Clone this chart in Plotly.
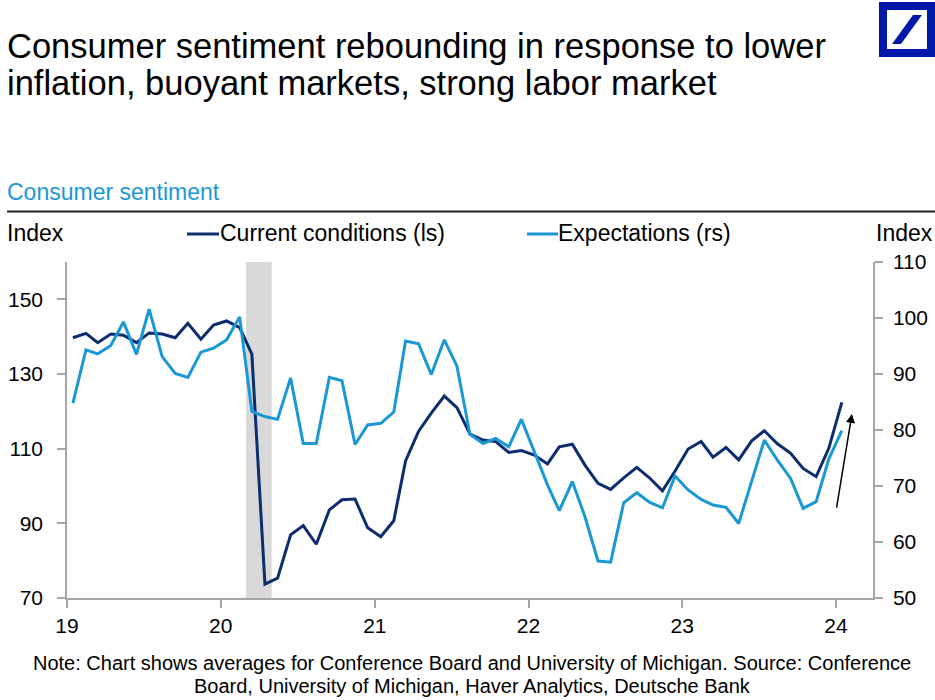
import plotly.graph_objects as go
import pandas as pd

# ---- data ----
dates = pd.date_range("2019-01-01", "2024-01-01", freq="MS") + pd.Timedelta(days=14)
current_conditions = [139.7, 140.9, 138.4, 140.7, 140.4, 138.4, 141.0, 140.7, 139.7, 143.6, 139.3, 143.1,
                      144.2, 142.4, 135.3, 73.7, 75.3, 86.9, 89.4, 84.4, 93.6, 96.3, 96.5, 88.8,
                      86.4, 90.7, 106.7, 114.7, 119.5, 124.1, 121.0, 113.9, 112.3, 111.9, 109.0, 109.5,
                      108.3, 105.9, 110.5, 111.2, 105.6, 100.7, 99.1, 102.2, 105.0, 102.2, 98.7, 104.0,
                      109.9, 111.9, 107.7, 110.3, 107.0, 112.1, 114.8, 111.3, 108.8, 104.7, 102.5, 110.1,
                      122.4]
expectations = [84.8, 94.3, 93.6, 95.1, 99.3, 93.5, 101.6, 93.1, 90.1, 89.4, 93.9, 94.6,
                96.1, 100.2, 83.3, 82.4, 81.9, 89.3, 77.6, 77.6, 89.4, 88.8, 77.4, 80.9,
                81.2, 83.2, 95.9, 95.4, 89.9, 96.1, 91.4, 79.2, 77.6, 78.5, 77.0, 81.9,
                76.1, 70.2, 65.6, 70.8, 64.5, 56.6, 56.4, 67.0, 68.8, 67.1, 66.1, 71.8,
                69.3, 67.6, 66.6, 66.2, 63.3, 70.8, 78.2, 74.6, 71.4, 66.0, 67.2, 74.8,
                79.9]
year_ticks = ["2019-01-01", "2020-01-01", "2021-01-01", "2022-01-01", "2023-01-01", "2024-01-01"]
year_labels = ["19", "20", "21", "22", "23", "24"]
left_ticks = [70, 90, 110, 130, 150]
right_ticks = [50, 60, 70, 80, 90, 100, 110]
recession = ("2020-03-01", "2020-05-01")

DARK = "#0c2d6e"
LIGHT = "#1a98d5"
AXIS = "#a6a6a6"
FONT = "Liberation Sans, Arial, sans-serif"

# plot area geometry (pixels)
W, H = 935, 700
L, R, T, B = 67, 873, 262, 598


def px(x):
    return (x - L) / (R - L)


def py(y):
    return (B - y) / (B - T)


fig = go.Figure()
fig.add_trace(go.Scatter(x=dates, y=current_conditions, mode="lines", name="Current conditions (ls)",
                         line=dict(color=DARK, width=3), yaxis="y", showlegend=False))
fig.add_trace(go.Scatter(x=dates, y=expectations, mode="lines", name="Expectations (rs)",
                         line=dict(color=LIGHT, width=3), yaxis="y2", showlegend=False))

shapes = [
    dict(type="rect", xref="x", yref="paper", x0=recession[0], x1=recession[1], y0=0, y1=1,
         fillcolor="#d9d9d9", line=dict(width=0), layer="below"),
    # header rule
    dict(type="line", xref="paper", yref="paper", x0=px(7), x1=px(935), y0=py(211.5), y1=py(211.5),
         line=dict(color="#222222", width=2)),
    # legend samples
    dict(type="line", xref="paper", yref="paper", x0=px(187), x1=px(219), y0=py(234), y1=py(234),
         line=dict(color=DARK, width=3)),
    dict(type="line", xref="paper", yref="paper", x0=px(527), x1=px(558), y0=py(234), y1=py(234),
         line=dict(color=LIGHT, width=3)),
    # logo
    dict(type="rect", xref="paper", yref="paper", x0=px(879), x1=px(935), y0=py(57), y1=py(2),
         fillcolor="#0018a8", line=dict(width=0)),
    dict(type="rect", xref="paper", yref="paper", x0=px(887), x1=px(927), y0=py(49), y1=py(10),
         fillcolor="white", line=dict(width=0)),
    dict(type="path", xref="paper", yref="paper",
         path=f"M {px(892)} {py(44)} L {px(901)} {py(44)} L {px(922)} {py(15)} L {px(913)} {py(15)} Z",
         fillcolor="#0018a8", line=dict(width=0)),
]

ann = []


def text(t, x, y, size, color="black", xanchor="left"):
    ann.append(dict(text=t, x=px(x), y=py(y), xref="paper", yref="paper", showarrow=False,
                    xanchor=xanchor, yanchor="middle", font=dict(size=size, color=color, family=FONT)))


text("Consumer sentiment rebounding in response to lower", 5, 46, 34.5)
text("inflation, buoyant markets, strong labor market", 5, 83, 34.5)
text("Consumer sentiment", 5, 192, 23, LIGHT)
text("Index", 5, 233, 23)
text("Current conditions (ls)", 218, 233, 23)
text("Expectations (rs)", 556, 233, 23)
text("Index", 935, 233, 23, xanchor="right")
text("Note: Chart shows averages for Conference Board and University of Michigan. Source: Conference",
     472, 663, 20, xanchor="center")
text("Board, University of Michigan, Haver Analytics, Deutsche Bank", 472, 686, 20, xanchor="center")

# arrow
ann.append(dict(x="2024-02-08", y=119.3, ax="2024-01-02", ay=93.8, xref="x", yref="y", axref="x", ayref="y",
                showarrow=True, arrowhead=2, arrowsize=1.2, arrowwidth=1.5, arrowcolor="black", text=""))

tickfont = dict(size=21, family=FONT, color="black")
fig.update_layout(
    template="none",
    width=W, height=H,
    margin=dict(l=L, r=W - R, t=T, b=H - B, pad=0),
    plot_bgcolor="white", paper_bgcolor="white",
    font=dict(family=FONT, size=20, color="black"),
    showlegend=False,
    shapes=shapes, annotations=ann,
    xaxis=dict(range=["2019-01-01", "2024-03-29"], tickvals=year_ticks, ticktext=year_labels,
               showgrid=False, zeroline=False, showline=True, linecolor=AXIS, linewidth=1.5,
               ticks="outside", ticklen=8, tickcolor=AXIS, tickwidth=1.5, tickfont=tickfont,
               automargin=False),
    yaxis=dict(range=[70, 160], tickvals=left_ticks, showgrid=False, zeroline=False,
               showline=True, linecolor=AXIS, linewidth=1.5,
               ticks="outside", ticklen=8, tickcolor=AXIS, tickwidth=1.5, ticklabelstandoff=10,
               tickfont=tickfont, automargin=False),
    yaxis2=dict(range=[50, 110], tickvals=right_ticks, overlaying="y", side="right",
                showgrid=False, zeroline=False, showline=True, linecolor=AXIS, linewidth=1.5,
                ticks="outside", ticklen=8, tickcolor=AXIS, tickwidth=1.5, ticklabelstandoff=6,
                tickfont=tickfont, automargin=False),
)

fig.write_html("out.html", config={"displayModeBar": False},
               post_script="document.body.style.margin='0';document.body.style.overflow='hidden';")
